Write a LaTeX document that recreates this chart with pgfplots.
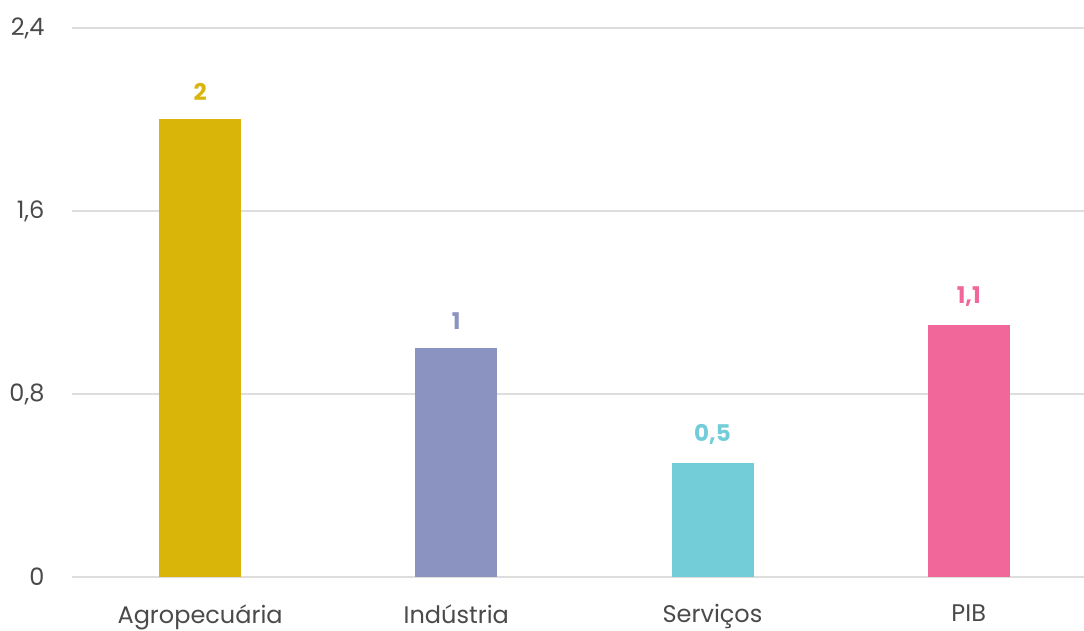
\documentclass[border=0pt]{standalone}
\usepackage{fontspec}
\setmainfont{Poppins}
\usepackage{pgfplots}
\pgfplotsset{compat=1.18}
\definecolor{cAgro}{HTML}{D9B50A}
\definecolor{cInd}{HTML}{8B93C1}
\definecolor{cServ}{HTML}{72CDD8}
\definecolor{cPib}{HTML}{F2679A}
\definecolor{gridc}{HTML}{DDDDDD}
\definecolor{txt}{HTML}{4A4A4A}
\begin{document}
\begin{tikzpicture}
\begin{axis}[
    name=ax,
    scale only axis,
    width=1012pt, height=549pt,
    xmin=-0.5, xmax=3.45,
    ymin=0, ymax=2.4,
    ytick={0,0.8,1.6,2.4},
    xtick={0,1,2,3},
    xticklabels={Agropecuária, Indústria, Serviços, PIB},
    axis line style={draw=none},
    major tick length=0pt,
    ymajorgrids,
    grid style={gridc, line width=1.2pt},
    yticklabel style={font=\fontsize{24}{24}\selectfont, text=txt, anchor=east},
    yticklabel shift=24pt,
    xticklabel style={font=\fontsize{24}{24}\selectfont, text=txt},
    xticklabel shift=24pt,
    /pgf/number format/use comma,
    /pgf/number format/assume math mode=true,
    yticklabel={\pgfmathprintnumber[fixed,precision=1]{\tick}},
    nodes near coords,
    nodes near coords style={font=\fontsize{23}{23}\selectfont\bfseries, anchor=south, yshift=15pt,
        /pgf/number format/use comma, /pgf/number format/assume math mode=true},
    every axis plot/.append style={ybar, bar width=82pt, draw=none, bar shift=0pt},
]
\addplot[fill=cAgro, nodes near coords style={text=cAgro}] coordinates {(0,2)};
\addplot[fill=cInd, nodes near coords style={text=cInd}] coordinates {(1,1)};
\addplot[fill=cServ, nodes near coords style={text=cServ}] coordinates {(2,0.5)};
\addplot[fill=cPib, nodes near coords style={text=cPib}] coordinates {(3,1.1)};
\end{axis}
\pgfresetboundingbox
\path[use as bounding box] ([xshift=-72pt,yshift=-53pt]ax.south west) rectangle ([yshift=28pt]ax.north east);
\end{tikzpicture}
\end{document}
